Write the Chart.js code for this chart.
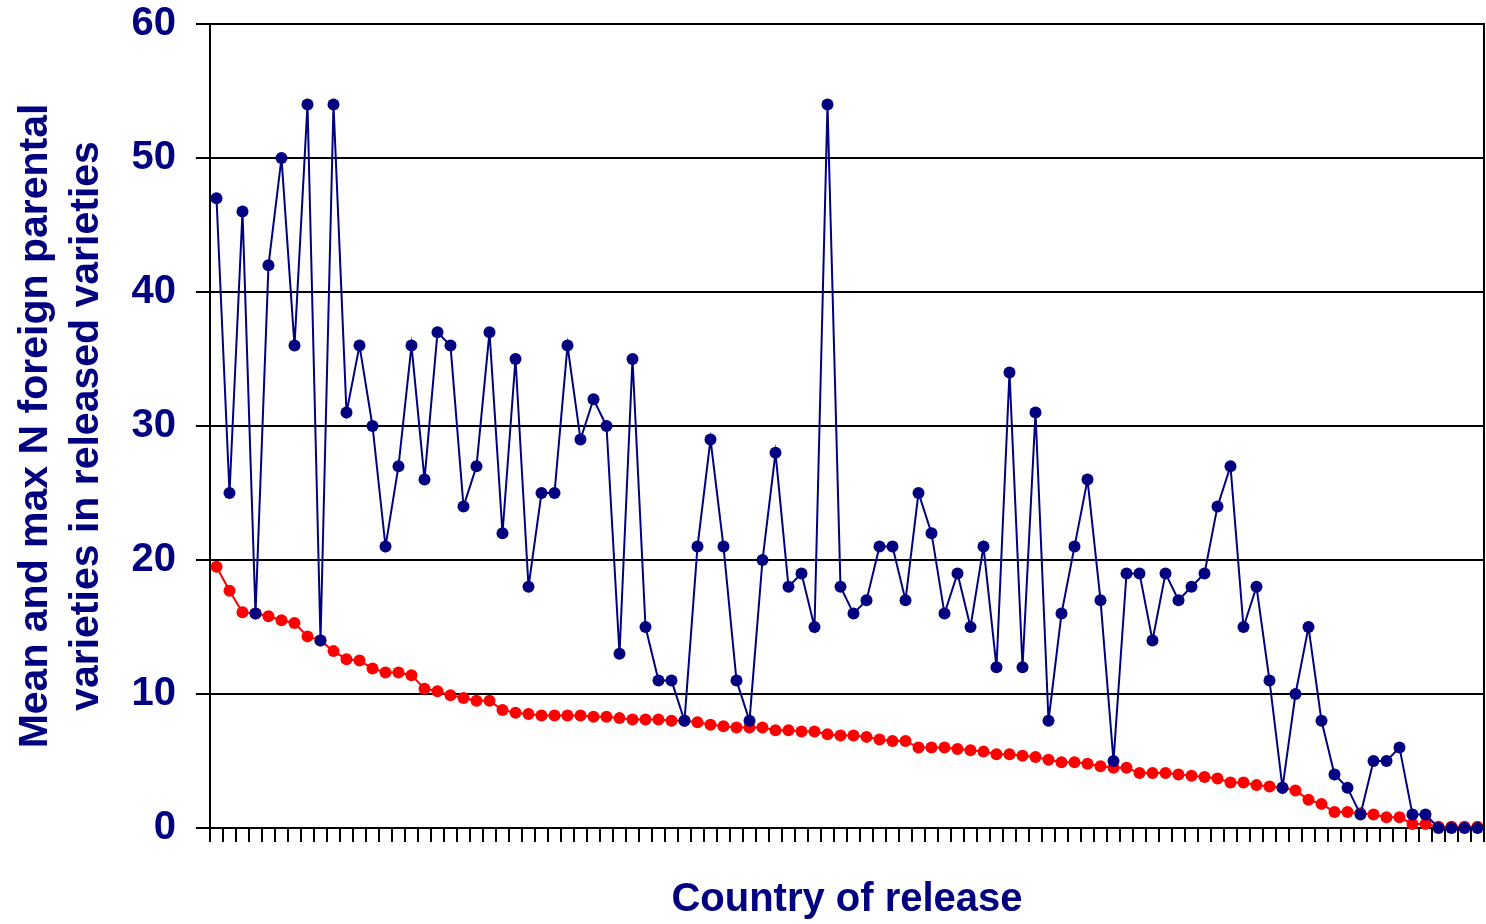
<!DOCTYPE html>
<html>
<head>
<meta charset="utf-8">
<script src="https://cdn.jsdelivr.net/npm/chart.js@4/dist/chart.umd.min.js"></script>
<style>
  body { margin: 0; background: #fff; }
  #wrap { width: 1486px; height: 924px; }
</style>
</head>
<body>
<div id="wrap"><canvas id="release-chart"></canvas></div>
<script>
// max N foreign parental varieties, per country (sorted by mean)
const maxForeign = [
  47, 25, 46, 16, 42, 50, 36, 54, 14, 54,
  31, 36, 30, 21, 27, 36, 26, 37, 36, 24,
  27, 37, 22, 35, 18, 25, 25, 36, 29, 32,
  30, 13, 35, 15, 11, 11, 8, 21, 29, 21,
  11, 8, 20, 28, 18, 19, 15, 54, 18, 16,
  17, 21, 21, 17, 25, 22, 16, 19, 15, 21,
  12, 34, 12, 31, 8, 16, 21, 26, 17, 5,
  19, 19, 14, 19, 17, 18, 19, 24, 27, 15,
  18, 11, 3, 10, 15, 8, 4, 3, 1, 5,
  5, 6, 1, 1, 0, 0, 0, 0
];

// mean N foreign parental varieties
const meanForeign = [
  19.5, 17.7, 16.1, 16.0, 15.8, 15.5, 15.3, 14.3, 14.0, 13.2,
  12.6, 12.5, 11.9, 11.6, 11.6, 11.4, 10.4, 10.2, 9.9, 9.7,
  9.5, 9.5, 8.8, 8.6, 8.5, 8.4, 8.4, 8.4, 8.4, 8.3,
  8.3, 8.2, 8.1, 8.1, 8.1, 8.0, 8.0, 7.9, 7.7, 7.6,
  7.5, 7.5, 7.5, 7.3, 7.3, 7.2, 7.2, 7.0, 6.9, 6.9,
  6.8, 6.6, 6.5, 6.5, 6.0, 6.0, 6.0, 5.9, 5.8, 5.7,
  5.5, 5.5, 5.4, 5.3, 5.1, 4.9, 4.9, 4.8, 4.6, 4.5,
  4.5, 4.1, 4.1, 4.1, 4.0, 3.9, 3.8, 3.7, 3.4, 3.4,
  3.2, 3.1, 3.0, 2.8, 2.1, 1.8, 1.2, 1.2, 1.1, 1.0,
  0.8, 0.8, 0.3, 0.3, 0.1, 0.1, 0.1, 0.1
];

// countries are not labelled in the original
const countryLabels = maxForeign.map(() => '');

const yTicks = [0, 10, 20, 30, 40, 50, 60];

const navy = '#000080';
const fontFamily = "'Liberation Sans', Arial, sans-serif";

new Chart(document.querySelector('#release-chart'), {
  type: 'line',
  data: {
    labels: countryLabels,
    datasets: [
      {
        label: 'Max',
        data: maxForeign,
        borderColor: navy,
        backgroundColor: navy,
        borderWidth: 2,
        pointRadius: 6,
        pointBorderWidth: 0,
        tension: 0,
        clip: false,
      },
      {
        label: 'Mean',
        data: meanForeign,
        borderColor: '#ff0000',
        backgroundColor: '#ff0000',
        borderWidth: 2,
        pointRadius: 6,
        pointBorderWidth: 0,
        tension: 0,
        clip: false,
      },
    ],
  },
  options: {
    responsive: true,
    maintainAspectRatio: false,
    animation: false,
    layout: { autoPadding: false, padding: { top: 24, right: 2, left: 0, bottom: 0 } },
    plugins: {
      legend: { display: false },
      tooltip: { enabled: false },
    },
    scales: {
      x: {
        offset: true,
        grid: {
          display: true,
          offset: true,
          drawOnChartArea: false,
          drawTicks: true,
          tickLength: 14,
          color: '#000',
          lineWidth: 2,
        },
        border: { display: true, color: '#000', width: 2 },
        ticks: { display: false, autoSkip: false },
        title: {
          display: true,
          text: 'Country of release',
          color: navy,
          font: { family: fontFamily, size: 40, weight: 'bold', lineHeight: 1.2 },
          padding: { top: 0, bottom: 0 },
        },
        afterFit: (scale) => {
          scale.height = 96;
          scale.paddingLeft = 0;
          scale.paddingRight = 0;
        },
      },
      y: {
        min: 0,
        max: 60,
        afterBuildTicks: (scale) => {
          scale.ticks = yTicks.map((v) => ({ value: v }));
        },
        grid: {
          color: '#000',
          lineWidth: 2,
          tickLength: 14,
        },
        border: { display: true, color: '#000', width: 2 },
        ticks: {
          color: navy,
          padding: 20,
          font: { family: fontFamily, size: 40, weight: 'bold', lineHeight: 1.2 },
        },
        title: {
          display: true,
          text: ['Mean and max N foreign parental', 'varieties in released varieties'],
          color: navy,
          font: { family: fontFamily, size: 41, weight: 'bold', lineHeight: 1.25 },
          padding: { top: 10, bottom: 0 },
        },
        afterFit: (scale) => {
          scale.width = 210;
          scale.paddingTop = 0;
          scale.paddingBottom = 0;
        },
      },
      // right frame line only
      yRight: {
        position: 'right',
        display: true,
        grid: { display: false },
        ticks: { display: false },
        border: { display: true, color: '#000', width: 2 },
        afterFit: (scale) => {
          scale.width = 0;
          scale.paddingTop = 0;
          scale.paddingBottom = 0;
        },
      },
    },
  },
});
</script>
</body>
</html>
